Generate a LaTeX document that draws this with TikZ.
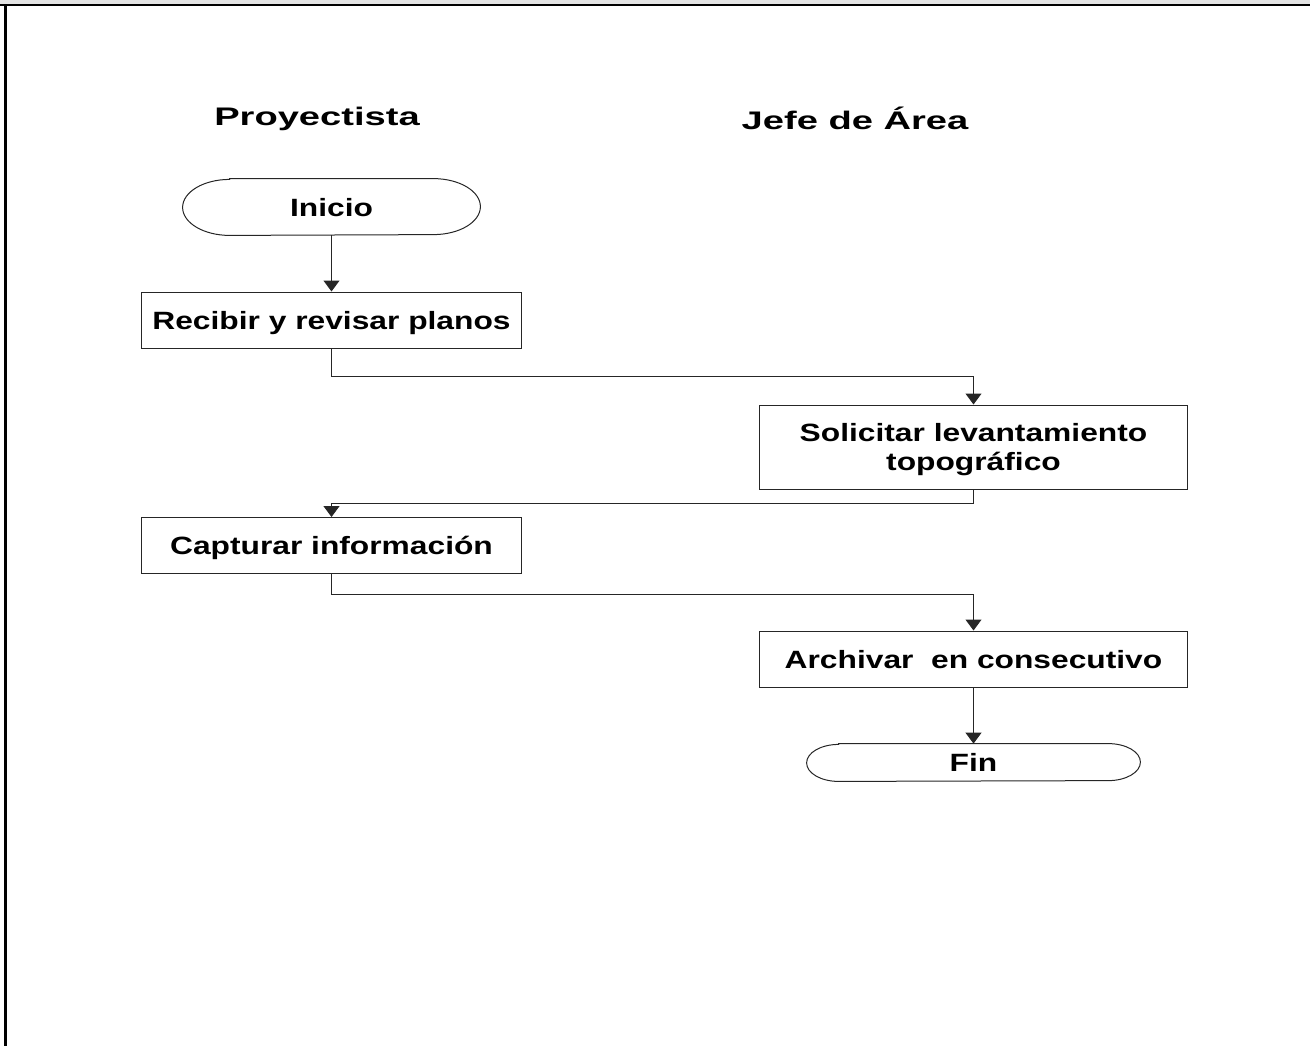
\documentclass[tikz,border=0pt]{standalone}
\usepackage{fontspec}
\setmainfont{Liberation Sans}
\newfontfamily\boxfont[FakeStretch=1.27]{Liberation Sans Bold}
\newfontfamily\headfont[FakeStretch=1.5]{Liberation Sans Bold}
\usetikzlibrary{arrows.meta}

\begin{document}
\begin{tikzpicture}[x=0.5pt,y=-0.5pt,>={Triangle[width=8pt,length=5.5pt]},
  proc/.style={draw=black!85,line width=0.5pt,minimum height=28pt,inner sep=2pt,
    text height=9pt,text depth=0pt,align=center,font=\boxfont\fontsize{12.5}{14.5}\selectfont},
  term/.style={inner sep=0pt,text height=9pt,text depth=0pt,font=\boxfont\fontsize{12.5}{14.5}\selectfont},
  conn/.style={draw=black!85,line width=0.5pt},
  flow/.style={conn,->},
  lanehead/.style={anchor=base,font=\headfont\fontsize{12.7}{15}\selectfont}]
  \useasboundingbox (0,0) rectangle (1310,1046);
  % page frame
  \fill[gray!22] (0,0) rectangle (1310,3.5);
  \draw[line width=1pt] (0,4.5) -- (1310,4.5);
  \draw[line width=1.2pt] (5.3,4.5) -- (5.3,1046);

  % lanes
  \node[lanehead] (proy) at (317,125.5) {Proyectista};
  \node[lanehead] (jefe) at (855,129.5) {Jefe de Área};

  % steps
  \node[term,minimum width=148.5pt,minimum height=28pt] (ini) at (331.5,207) {Inicio};
  \node[proc,minimum width=190pt] (recibir) at (331.5,320) {Recibir y revisar planos};
  \node[proc,minimum width=214pt,minimum height=42pt,text height=23.5pt] (solicitar) at (973.5,447) {Solicitar levantamiento\\topográfico};
  \node[proc,minimum width=190pt] (capturar) at (331.5,545.5) {Capturar información};
  \node[proc,minimum width=214pt] (archivar) at (973.5,659) {Archivar~ en consecutivo};
  \node[term,minimum width=166.5pt,minimum height=18.5pt] (fin) at (973.5,762.5) {Fin};

  % terminal outlines
  \draw[conn] ([xshift=23.5pt]ini.north west) -- ([xshift=-23.5pt]ini.north east)
    arc[start angle=90,end angle=-90,x radius=23.5pt,y radius=14pt]
    -- ([xshift=23.5pt]ini.south west)
    arc[start angle=270,end angle=90,x radius=23.5pt,y radius=14pt] -- cycle;
  \draw[conn] ([xshift=16pt]fin.north west) -- ([xshift=-16pt]fin.north east)
    arc[start angle=90,end angle=-90,x radius=16pt,y radius=9.25pt]
    -- ([xshift=16pt]fin.south west)
    arc[start angle=270,end angle=90,x radius=16pt,y radius=9.25pt] -- cycle;

  % connectors
  \draw[flow] (ini) -- (recibir);
  \draw[flow] (recibir.south) -- ++(0,28) -| (solicitar.north);
  \draw[flow] (solicitar.south) -- ++(0,14) -| (capturar.north);
  \draw[flow] (capturar.south) -- ++(0,20) -| (archivar.north);
  \draw[flow] (archivar) -- (fin);
\end{tikzpicture}
\end{document}
